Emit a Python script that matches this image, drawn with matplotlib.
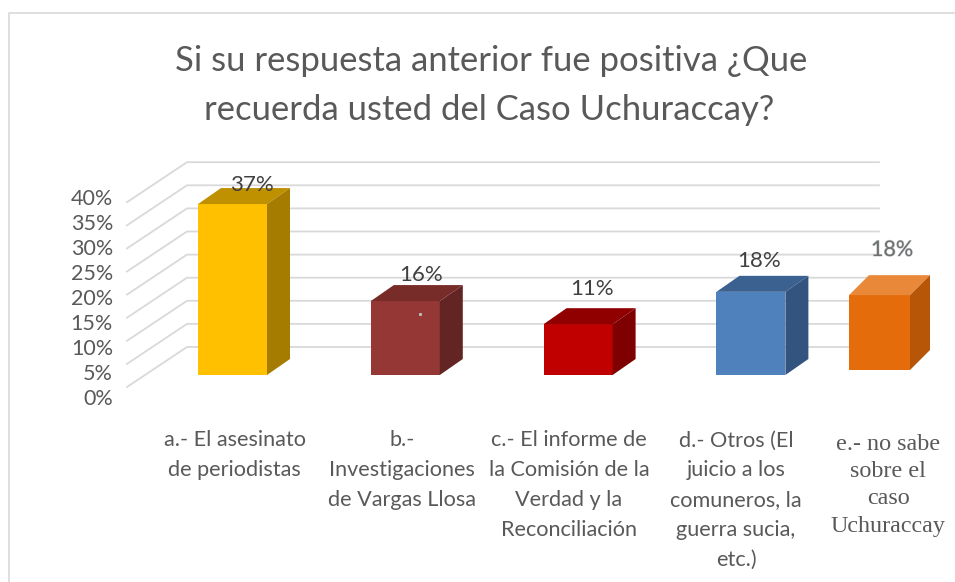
import matplotlib
matplotlib.use('Agg')
import matplotlib.pyplot as plt
import matplotlib.patheffects as pe

# Values
categories = [
    'a.- El asesinato\nde periodistas',
    'b.-\nInvestigaciones\nde Vargas Llosa',
    'c.- El informe de\nla Comisión de la\nVerdad y la\nReconciliación',
    'd.- Otros (El\njuicio a los\ncomuneros, la\nguerra sucia,\netc.)',
]
last_category = 'e.- no sabe\nsobre el\ncaso\nUchuraccay'
values = [37, 16, 11, 18]
last_value = 18
last_drawn_height = 16.2  # the orange box was pasted on, it is shorter than its label
y_ticks = [0, 5, 10, 15, 20, 25, 30, 35, 40]

face_colors = ['#FFC000', '#953735', '#C00000', '#4F81BD']
top_colors = ['#BF9000', '#772C2A', '#900000', '#3B6190']
side_colors = ['#A67C00', '#632523', '#7F0000', '#33547F']

W, H = 955, 582
X0, STEP = 232.5, 172.8   # pixel of the first bar centre, pixels between bars
Y0, PX_PCT = 375.0, 4.62  # pixel of the bar baseline, pixels per percent

fig = plt.figure(figsize=(W / 100, H / 100), dpi=100)
ax = fig.add_axes([0, 0, 1, 1])
ax.set_xlim(-X0 / STEP, (W - X0) / STEP)
ax.set_ylim((Y0 - H) / PX_PCT, Y0 / PX_PCT)
ax.axis('off')

GREY = '#595959'
LINE = '#D9D9D9'


def dx(px):
    return px / STEP


def dy(px):
    return px / PX_PCT


def box(x_left, width, base, height, depth_x, depth_y, face, top, side, z=3):
    x_right = x_left + width
    ax.fill([x_left, x_right, x_right, x_left], [base, base, base + height, base + height],
            color=face, lw=0, zorder=z)
    ax.fill([x_left, x_right, x_right + depth_x, x_left + depth_x],
            [base + height, base + height, base + height + depth_y, base + height + depth_y],
            color=top, lw=0, zorder=z)
    ax.fill([x_right, x_right + depth_x, x_right + depth_x, x_right],
            [base, base + depth_y, base + height + depth_y, base + height],
            color=side, lw=0, zorder=z)


# Gridlines: back wall plus the slanted floor part on the left
back_left, back_right, front_left = dx(187 - X0), dx(879 - X0), dx(127 - X0)
for tick in y_ticks:
    ax.plot([front_left, back_left, back_right],
            [tick + dy(-12), tick + dy(28), tick + dy(28)],
            color=LINE, lw=1.3, zorder=1, solid_joinstyle='miter')

# Bars
bar_w = dx(69)
for i, val in enumerate(values):
    box(i - bar_w / 2, bar_w, 0, val, dx(23), dy(16),
        face_colors[i], top_colors[i], side_colors[i])

# Orange pasted box
box(dx(849 - X0), dx(61), dy(5), last_drawn_height, dx(20), dy(20),
    '#E46C0A', '#E98838', '#B85607')

# Little speck on the second bar
ax.plot([dx(420 - X0)], [dy(375 - 314)], marker='s', ms=1.2, color='#BBBBBB', zorder=4)

# Data labels
label_dx = [19.5, 15.5, 14, 8.5]
label_dy = [19, 26, 35, 31]
for i, val in enumerate(values):
    ax.text(i + dx(label_dx[i]), val + dy(label_dy[i]), f'{val}%', ha='center', va='center',
            family='Lato', fontsize=16, color='#404040', zorder=5)
ax.text(dx(892 - X0), dy(375 - 250), f'{last_value}%', ha='center', va='center',
        family='Lato', fontsize=15.5, color='#6F6F6F', zorder=5,
        path_effects=[pe.withStroke(linewidth=0.8, foreground='#C8D0D0')])

# Category labels
for i, name in enumerate(categories):
    ax.text(dx(234.5 + 167.2 * i - X0), dy(375 - 430.5), name, ha='center', va='top',
            family='Lato', fontsize=15.6, color=GREY, linespacing=1.62)
ax.text(dx(888 - X0), dy(375 - 433.5), last_category, ha='center', va='top',
        family='Liberation Serif', fontsize=17.4, color=GREY, linespacing=1.4)

# Title
ax.text(dx(491 - X0), dy(375 - 61), 'Si su respuesta anterior fue positiva ¿Que',
        ha='center', va='center', family='Lato', fontsize=24.9, color=GREY)
ax.text(dx(489 - X0), dy(375 - 110), 'recuerda usted del Caso Uchuraccay?',
        ha='center', va='center', family='Lato', fontsize=24.9, color=GREY)

# Value axis sits lower and wider apart than the gridlines, as in the source
ax_y = fig.add_axes([113 / W, 1 - 397 / H, 1 / W, 200 / H])
ax_y.set_ylim(0, 40)
ax_y.set_yticks(y_ticks)
ax_y.set_yticklabels([f'{t}%' for t in y_ticks], family='Lato', fontsize=15.5, color=GREY)
ax_y.tick_params(axis='y', length=0, pad=0)
ax_y.set_xticks([])
ax_y.patch.set_visible(False)
for spine in ax_y.spines.values():
    spine.set_visible(False)

# Chart frame
ax.plot([dx(9 - X0), dx(9 - X0), dx(955 - X0)],
        [dy(375 - 582), dy(375 - 13), dy(375 - 13)], color=LINE, lw=1.2, zorder=1)

fig.savefig('out.png', dpi=100)
